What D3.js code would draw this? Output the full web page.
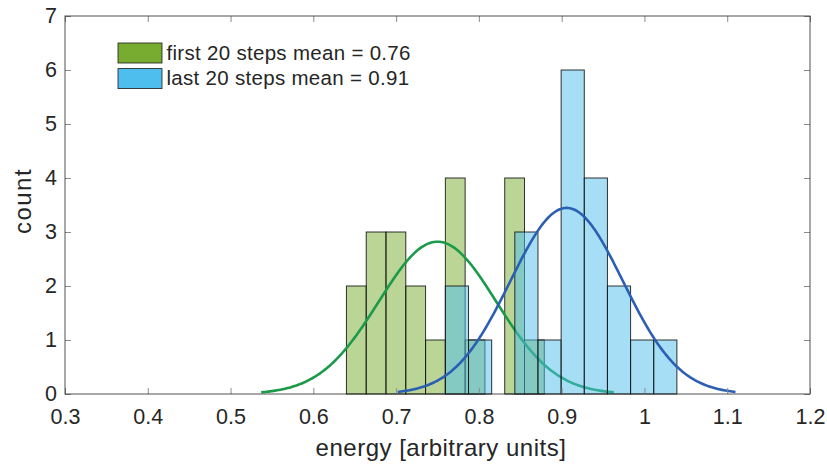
<!DOCTYPE html>
<html>
<head>
<meta charset="utf-8">
<script src="https://cdn.jsdelivr.net/npm/d3@7"></script>
<style>
  body { margin: 0; background: #fff; }
  text { font-family: "Liberation Sans", Arial, Helvetica, sans-serif; fill: #262626; }
</style>
</head>
<body>
<div id="chart"></div>
<script>
// histogram data
var greenStart = 0.640, greenWidth = 0.0239;
var greenCounts = [2, 3, 3, 2, 1, 4, 1, 0, 4, 1];
var blueStart = 0.7595, blueWidth = 0.02797;
var blueCounts = [2, 1, 0, 3, 1, 6, 4, 2, 1, 1];

// normal fits (mean, sigma) drawn over the histograms
var greenFit = [0.750, 0.071];
var blueFit = [0.906, 0.068];

var xTicks = [0.3, 0.4, 0.5, 0.6, 0.7, 0.8, 0.9, 1, 1.1, 1.2];
var yTicks = [0, 1, 2, 3, 4, 5, 6, 7];
var legendLabels = ["first 20 steps mean = 0.76", "last 20 steps mean = 0.91"];

var width = 827, height = 465;
var margin = {top: 16, right: 17, bottom: 71, left: 65};

var svg = d3.select("#chart")
    .append("svg")
    .attr("width", width)
    .attr("height", height);

var x = d3.scaleLinear().domain([0.3, 1.2]).range([margin.left, width - margin.right]);
var y = d3.scaleLinear().domain([0, 7]).range([height - margin.bottom, margin.top]);

function bins(start, w, counts) {
    return counts.map(function(c, i) {
        return {x0: start + i * w, x1: start + (i + 1) * w, n: c};
    });
}

function drawBars(data, color) {
    svg.append("g")
        .selectAll("rect")
        .data(data)
        .enter().append("rect")
        .attr("x", function(d) { return x(d.x0); })
        .attr("width", function(d) { return x(d.x1) - x(d.x0); })
        .attr("y", function(d) { return y(d.n); })
        .attr("height", function(d) { return y(0) - y(d.n); })
        .attr("fill", color)
        .attr("fill-opacity", 0.5)
        .attr("stroke", "#111")
        .attr("stroke-opacity", 0.85)
        .attr("stroke-width", 1);
}

function drawFit(fit, total, binW, color) {
    var mu = fit[0], s = fit[1];
    var pts = d3.range(0, 201).map(function(i) {
        var e = mu - 3 * s + i * 6 * s / 200;
        var v = total * binW * Math.exp(-0.5 * Math.pow((e - mu) / s, 2)) / (s * Math.sqrt(2 * Math.PI));
        return [e, v];
    });
    var line = d3.line()
        .x(function(d) { return x(d[0]); })
        .y(function(d) { return y(d[1]); });
    svg.append("path")
        .datum(pts)
        .attr("d", line)
        .attr("fill", "none")
        .attr("stroke", color)
        .attr("stroke-width", 2.6);
}

drawBars(bins(greenStart, greenWidth, greenCounts), "#77ac30");
drawFit(greenFit, d3.sum(greenCounts), greenWidth, "#1b9a4a");
drawBars(bins(blueStart, blueWidth, blueCounts), "#4dbeee");
drawFit(blueFit, d3.sum(blueCounts), blueWidth, "#2b5fb4");

// axes with inward ticks
var axisColor = "#262626";
var tickLen = 6;
var fmt = d3.format("");

var xAxis = svg.append("g")
    .attr("transform", "translate(0," + y(0) + ")")
    .call(d3.axisBottom(x).tickValues(xTicks).tickSizeInner(-tickLen).tickSizeOuter(0).tickPadding(15)
        .tickFormat(function(d) { return fmt(d); }));
xAxis.select(".domain").remove();
xAxis.selectAll(".tick line").attr("stroke", "#8c8c8c");
xAxis.selectAll(".tick text").attr("font-size", 21.5).style("fill", axisColor);

var yAxis = svg.append("g")
    .attr("transform", "translate(" + x(0.3) + ",0)")
    .call(d3.axisLeft(y).tickValues(yTicks).tickSizeInner(-tickLen).tickSizeOuter(0).tickPadding(8)
        .tickFormat(d3.format("d")));
yAxis.select(".domain").remove();
yAxis.selectAll(".tick line").attr("stroke", "#8c8c8c");
yAxis.selectAll(".tick text").attr("font-size", 21.5).style("fill", axisColor);

// mirrored ticks on top and right
var xTop = svg.append("g")
    .attr("transform", "translate(0," + y(7) + ")")
    .call(d3.axisTop(x).tickValues(xTicks).tickSizeInner(-tickLen).tickSizeOuter(0).tickFormat(""));
xTop.select(".domain").remove();
xTop.selectAll(".tick line").attr("stroke", "#8c8c8c");
var yRight = svg.append("g")
    .attr("transform", "translate(" + x(1.2) + ",0)")
    .call(d3.axisRight(y).tickValues(yTicks).tickSizeInner(-tickLen).tickSizeOuter(0).tickFormat(""));
yRight.select(".domain").remove();
yRight.selectAll(".tick line").attr("stroke", "#8c8c8c");

// box
svg.append("rect")
    .attr("x", x(0.3))
    .attr("y", y(7))
    .attr("width", x(1.2) - x(0.3))
    .attr("height", y(0) - y(7))
    .attr("fill", "none")
    .attr("stroke", axisColor)
    .attr("stroke-opacity", 0.8)
    .attr("stroke-width", 1);

// axis labels
svg.append("text")
    .attr("x", 441)
    .attr("y", 456)
    .attr("text-anchor", "middle")
    .attr("font-size", 24)
    .attr("letter-spacing", 0.5)
    .text("energy [arbitrary units]");

svg.append("text")
    .attr("transform", "translate(31,201) rotate(-90)")
    .attr("text-anchor", "middle")
    .attr("font-size", 24)
    .attr("letter-spacing", 1.5)
    .text("count");

// legend
var legendColors = ["#77ac30", "#4dbeee"];
var legend = svg.append("g");
legendLabels.forEach(function(lab, i) {
    var ly = 43 + i * 25.6;
    legend.append("rect")
        .attr("x", 118)
        .attr("y", ly)
        .attr("width", 44)
        .attr("height", 20)
        .attr("fill", legendColors[i])
        .attr("stroke", "#1a1a1a")
        .attr("stroke-width", 0.8);
    legend.append("text")
        .attr("x", 166.5)
        .attr("y", ly + 16.5)
        .attr("font-size", 20.5)
        .attr("letter-spacing", 0.3)
        .text(lab);
});
</script>
</body>
</html>
